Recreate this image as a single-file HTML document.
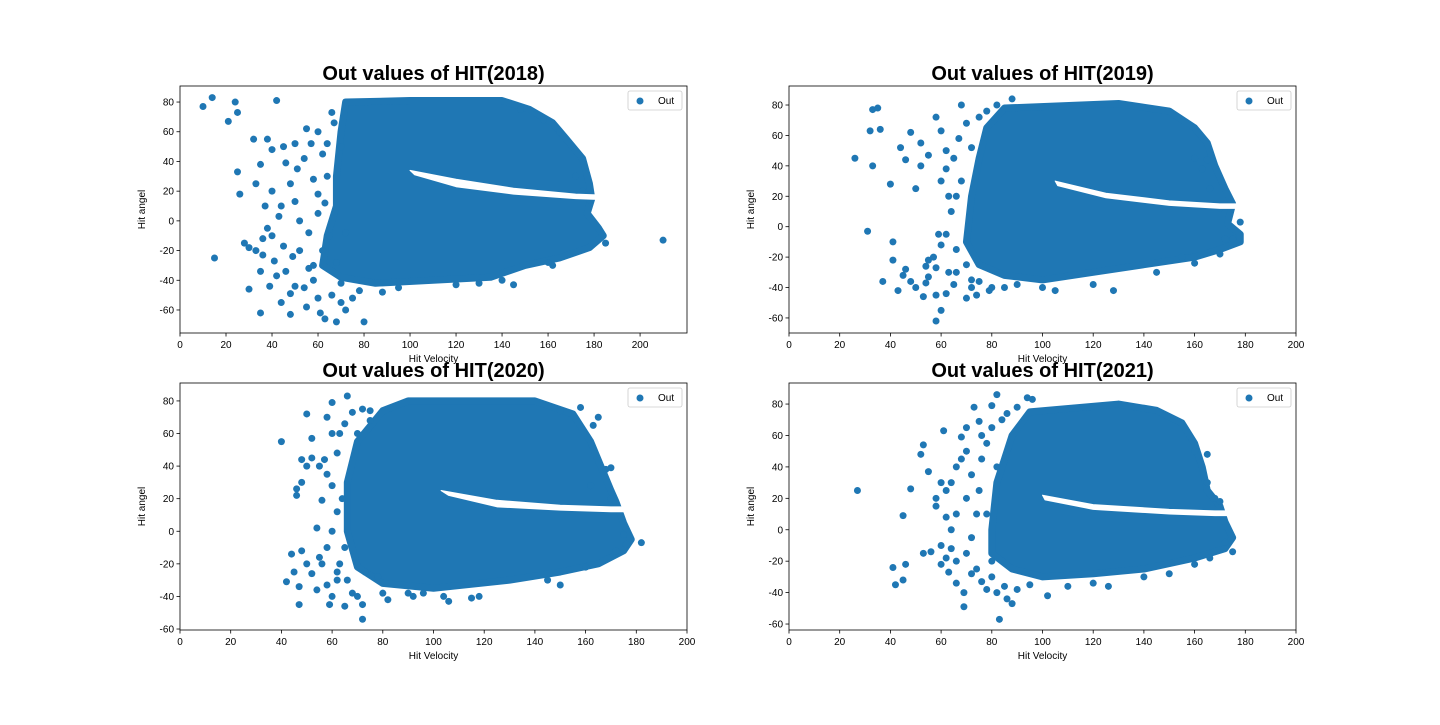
<!DOCTYPE html>
<html><head><meta charset="utf-8"><style>
body{margin:0;background:#fff;font-family:"Liberation Sans",sans-serif}
svg text{font-family:"Liberation Sans",sans-serif}
</style></head><body>
<svg id="fig" width="1440" height="720" xmlns="http://www.w3.org/2000/svg"></svg>
<script>
// ---- data ----
const titles = ["Out values of HIT(2018)","Out values of HIT(2019)","Out values of HIT(2020)","Out values of HIT(2021)"];
const xTicks = [[0,20,40,60,80,100,120,140,160,180,200],[0,20,40,60,80,100,120,140,160,180,200],[0,20,40,60,80,100,120,140,160,180,200],[0,20,40,60,80,100,120,140,160,180,200]];
const yTicks = [[-60,-40,-20,0,20,40,60,80],[-60,-40,-20,0,20,40,60,80],[-60,-40,-20,0,20,40,60,80],[-60,-40,-20,0,20,40,60,80]];
// dense cluster outlines (velocity, angle)
const blob2018 = [[72,80],[100,81],[140,81],[152,75],[162,66],[168,55],[175,42],[178,25],[179,15],[177,5],[182,-5],[184,-10],[178,-18],[165,-25],[150,-30],[135,-38],[110,-40],[85,-42],[70,-38],[62,-30],[64,-10],[68,10],[68,30],[70,60]];
const gap2018 = [[100,34],[120,28],[145,22],[172,18],[190,17],[190,14],[172,15],[145,18],[120,23],[102,31]];
const blob2019 = [[85,78],[130,81],[150,76],[160,65],[165,55],[168,40],[172,25],[175,15],[173,2],[178,-5],[178,-10],[170,-15],[160,-20],[140,-25],[120,-30],[100,-35],[85,-32],[75,-25],[70,-10],[72,20],[75,45],[78,65]];
const gap2019 = [[105,30],[125,22],[150,17],[170,15],[185,15],[185,12],[170,12],[150,14],[125,19],[106,27]];
const blob2020 = [[80,74],[90,80],[140,80],[155,72],[162,55],[166,40],[170,25],[172,18],[175,5],[178,-5],[175,-12],[165,-20],[150,-25],[130,-30],[100,-35],[80,-32],[70,-22],[66,0],[66,30],[70,55]];
const gap2020 = [[103,25],[125,19],[150,16],[170,15],[185,15],[185,12],[170,12],[150,13],[125,15],[106,22]];
const blob2021 = [[88,60],[95,75],[130,80],[145,76],[155,68],[160,55],[163,40],[165,25],[170,15],[172,5],[175,-5],[172,-12],[160,-18],[140,-25],[120,-28],[100,-30],[88,-25],[80,-15],[80,0],[82,30],[85,45]];
const gap2021 = [[100,22],[120,16],[150,13],[168,12],[185,12],[185,9],[168,9],[150,10],[120,13],[101,19]];
// scattered points (velocity, angle)
const pts2018 = [[10,77],[14,83],[21,67],[24,80],[25,73],[15,-25],[210,-13],[25,33],[26,18],[28,-15],[30,-18],[30,-46],[32,55],[33,25],[35,38],[35,-34],[35,-62],[37,10],[38,-5],[40,48],[40,20],[41,-27],[42,81],[43,3],[45,-17],[46,39],[48,-49],[48,-63],[50,52],[50,13],[52,-20],[55,62],[56,-32],[58,28],[60,-52],[62,45],[63,-66],[65,-10],[66,73],[68,-68],[70,-42],[72,-8],[55,-58],[44,-55],[48,25],[60,18],[36,-23],[38,55],[178,14],[185,-15],[162,-30],[145,-43],[140,-40],
[54,42],[58,-40],[60,5],[62,-20],[64,30],[56,-8],[52,0],[46,-34],[50,-44],[66,-50],[70,-55],[75,-52],[80,-68],[72,-60],[60,60],[68,-28],[63,12],[58,-30],[54,-45],[44,10],[40,-10],[36,-12],[33,-20],[45,50],[51,35],[57,52],[49,-24],[39,-44],[42,-37],[61,-62],[67,66],[70,50],[64,52],[95,-45],[120,-43],[130,-42],[88,-48],[78,-47],[160,-28],[175,20],[172,30],[165,60],[158,68],[148,75]];
const pts2019 = [[26,45],[31,-3],[32,63],[33,77],[35,78],[36,64],[33,40],[37,-36],[40,28],[41,-10],[41,-22],[43,-42],[44,52],[45,-32],[46,44],[48,62],[50,25],[52,40],[53,-46],[55,-22],[58,-27],[58,-62],[60,63],[60,-55],[62,-44],[62,50],[66,-30],[68,80],[70,-47],[72,-40],[75,-36],[79,-42],[178,3],[172,-8],[165,44],[155,-20],[145,-30],[88,84],[82,80],
[55,-33],[57,-20],[60,-12],[62,-5],[64,10],[66,20],[60,30],[62,38],[65,45],[67,58],[70,68],[72,52],[68,30],[66,-15],[63,-30],[65,-38],[70,-25],[72,-35],[74,-45],[80,-40],[85,-40],[90,-38],[100,-40],[105,-42],[120,-38],[128,-42],[58,-45],[54,-37],[50,-40],[48,-36],[46,-28],[54,-26],[59,-5],[63,20],[52,55],[55,47],[58,72],[75,72],[78,76],[160,45],[163,38],[166,25],[170,12],[175,-8],[170,-18],[160,-24]];
const pts2020 = [[40,55],[42,-31],[44,-14],[46,22],[47,-45],[48,44],[50,72],[52,57],[54,2],[55,-16],[56,19],[57,44],[58,-33],[59,-45],[60,79],[62,-30],[63,60],[65,-46],[66,83],[68,-38],[72,-54],[73,-25],[75,74],[78,-28],[82,-42],[90,-38],[106,-43],[118,-40],[182,-7],[175,-2],[170,39],[165,70],[160,-22],
[46,26],[48,30],[50,40],[52,45],[55,40],[58,35],[60,28],[62,12],[60,0],[58,-10],[56,-20],[52,-26],[50,-20],[48,-12],[45,-25],[47,-34],[54,-36],[60,-40],[63,-20],[65,-10],[64,20],[62,48],[65,66],[68,73],[70,60],[72,75],[75,68],[60,60],[58,70],[62,-25],[66,-30],[70,-40],[72,-45],[80,-38],[92,-40],[96,-38],[104,-40],[115,-41],[145,-30],[150,-33],[162,28],[168,38],[170,20],[172,-12],[176,-8],[163,65],[158,76],[150,74]];
const pts2021 = [[27,25],[41,-24],[42,-35],[45,-32],[45,9],[46,-22],[48,26],[52,48],[53,54],[53,-15],[55,37],[56,-14],[58,20],[60,30],[60,-22],[61,63],[62,8],[63,-27],[64,-12],[66,-34],[68,59],[69,-40],[69,-49],[72,-28],[73,78],[75,69],[78,-38],[80,79],[82,86],[83,-57],[86,-44],[88,-47],[94,84],[96,83],[102,-42],[126,-36],[175,-14],[172,-8],[170,18],[165,48],[160,-22],
[58,15],[62,25],[64,30],[66,40],[68,45],[70,50],[72,35],[70,20],[66,10],[64,0],[60,-10],[62,-18],[66,-20],[70,-15],[72,-5],[74,10],[75,25],[76,45],[78,55],[80,65],[84,70],[86,74],[90,78],[74,-25],[76,-33],[80,-30],[82,-40],[85,-36],[90,-38],[95,-35],[110,-36],[120,-34],[140,-30],[150,-28],[76,60],[70,65],[82,40],[78,10],[80,-20],[160,50],[165,30],[168,20],[166,-18]];
const blobs=[blob2018,blob2019,blob2020,blob2021];
const gaps=[gap2018,gap2019,gap2020,gap2021];
const ptsAll=[pts2018,pts2019,pts2020,pts2021];
// ---- layout ----
const boxes=[{x0:180,x1:687,y0:86,y1:333,xmin:0,xmax:220.4,ymin:-75.5,ymax:90.8},
{x0:789,x1:1296,y0:86,y1:333,xmin:0,xmax:200,ymin:-69.9,ymax:92.5},
{x0:180,x1:687,y0:383,y1:630,xmin:0,xmax:200,ymin:-60.6,ymax:91},
{x0:789,x1:1296,y0:383,y1:630,xmin:0,xmax:200,ymin:-63.8,ymax:93.4}];
const NS="http://www.w3.org/2000/svg";
const svg=document.getElementById('fig');
function mk(tag,attrs,parent){const e=document.createElementNS(NS,tag);for(const k in attrs)e.setAttribute(k,attrs[k]);(parent||svg).appendChild(e);return e;}
const C="#1f77b4";
boxes.forEach((b,i)=>{
  const g=mk('g',{});
  
  
  const sx=v=>b.x0+(v-b.xmin)/(b.xmax-b.xmin)*(b.x1-b.x0);
  const sy=v=>b.y1-(v-b.ymin)/(b.ymax-b.ymin)*(b.y1-b.y0);
  const clipId='c'+i;
  const cp=mk('clipPath',{id:clipId},g);mk('rect',{x:b.x0,y:b.y0,width:b.x1-b.x0,height:b.y1-b.y0},cp);
  const data=mk('g',{'clip-path':'url(#'+clipId+')'},g);
  const p=mk('polygon',{points:blobs[i].map(d=>sx(d[0])+','+sy(d[1])).join(' '),fill:C,stroke:C,'stroke-width':7,'stroke-linejoin':'round'},data);
  
  
  ptsAll[i].forEach(d=>{
    const c=mk('circle',{cx:sx(d[0]),cy:sy(d[1]),r:3.5,fill:C},data);
    
    
  });
  const gp=mk('polygon',{points:gaps[i].map(d=>sx(d[0])+','+sy(d[1])).join(' '),fill:'#fff',stroke:'#fff','stroke-width':1,'stroke-linejoin':'round'},data);
  
  
  const fr=mk('rect',{x:b.x0,y:b.y0,width:b.x1-b.x0,height:b.y1-b.y0,fill:'none',stroke:'#000','stroke-width':0.8},g);
  
  xTicks[i].forEach(t=>{const x=sx(t);mk('line',{x1:x,x2:x,y1:b.y1,y2:b.y1+3.5,stroke:'#000','stroke-width':0.8},g);
    const tx=mk('text',{x:x,y:b.y1+15,'font-size':10,'text-anchor':'middle'},g);tx.textContent=t;
    });
  yTicks[i].forEach(t=>{const y=sy(t);mk('line',{x1:b.x0-3.5,x2:b.x0,y1:y,y2:y,stroke:'#000','stroke-width':0.8},g);
    const tx=mk('text',{x:b.x0-6,y:y+3.5,'font-size':10,'text-anchor':'end'},g);tx.textContent=t;
    });
  const xl=mk('text',{x:(b.x0+b.x1)/2,y:b.y1+29,'font-size':10,'text-anchor':'middle'},g);xl.textContent='Hit Velocity';
  
  const yc=(b.y0+b.y1)/2;
  const yl=mk('text',{x:b.x0-35,y:yc,'font-size':10,'text-anchor':'middle',transform:'rotate(-90 '+(b.x0-35)+' '+yc+')'},g);yl.textContent='Hit angel';
  
  const tt=mk('text',{x:(b.x0+b.x1)/2,y:b.y0-6,'font-size':20,'font-weight':'bold','text-anchor':'middle'},g);tt.textContent=titles[i];
  
  const lg=mk('g',{},g);
  
  mk('rect',{x:b.x1-59,y:b.y0+5,width:54,height:19,rx:2,fill:'#fff',stroke:'#ccc','stroke-width':0.8},lg);
  mk('circle',{cx:b.x1-47,cy:b.y0+15,r:3.5,fill:C},lg);
  const lt=mk('text',{x:b.x1-29,y:b.y0+18,'font-size':10},lg);lt.textContent='Out';
  
});
</script>
</body></html>
